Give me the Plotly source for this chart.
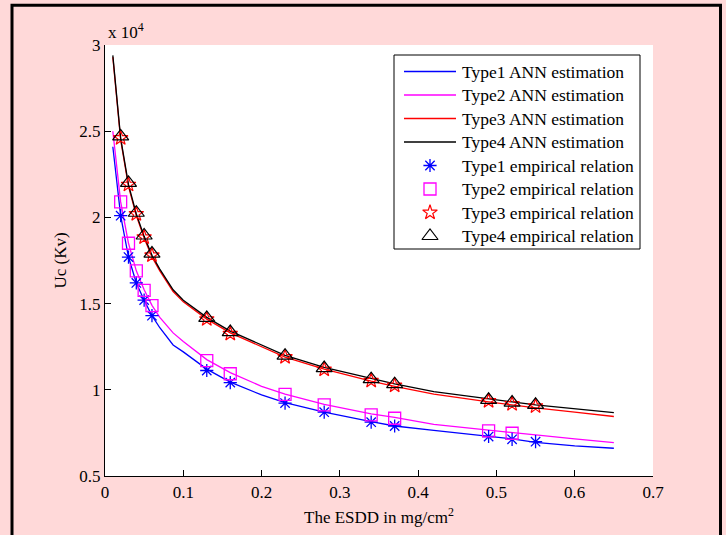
import plotly.graph_objects as go

# ESDD sampling grid for the ANN estimation curves (mg/cm^2)
esdd_curve = [0.01, 0.02, 0.03, 0.04, 0.05, 0.06, 0.07, 0.087, 0.10, 0.13, 0.16,
              0.20, 0.23, 0.28, 0.34, 0.37, 0.42, 0.49, 0.52, 0.55, 0.60, 0.65]

# ANN-estimated flashover voltage Uc (x 10^4 kV)
type1_ann = [2.41, 2.01, 1.77, 1.62, 1.52, 1.43, 1.36, 1.26, 1.22, 1.12, 1.045,
             0.97, 0.925, 0.87, 0.815, 0.79, 0.765, 0.73, 0.715, 0.695, 0.675, 0.661]
type2_ann = [2.50, 2.09, 1.85, 1.69, 1.58, 1.49, 1.42, 1.33, 1.28, 1.175, 1.10,
             1.02, 0.975, 0.915, 0.86, 0.84, 0.80, 0.765, 0.75, 0.738, 0.715, 0.694]
type3_ann = [2.93, 2.45, 2.18, 2.01, 1.88, 1.77, 1.69, 1.57, 1.51, 1.41, 1.33,
             1.25, 1.19, 1.12, 1.05, 1.02, 0.975, 0.93, 0.912, 0.895, 0.87, 0.845]
type4_ann = [2.94, 2.46, 2.19, 2.02, 1.89, 1.78, 1.70, 1.58, 1.52, 1.42, 1.34,
             1.26, 1.20, 1.13, 1.065, 1.035, 0.99, 0.945, 0.93, 0.912, 0.89, 0.868]

# Empirical relation points
esdd_emp = [0.02, 0.03, 0.04, 0.05, 0.06, 0.13, 0.16, 0.23, 0.28, 0.34, 0.37, 0.49, 0.52, 0.55]
type1_emp = [2.01, 1.77, 1.62, 1.52, 1.43, 1.112, 1.042, 0.923, 0.870, 0.812, 0.790, 0.729, 0.713, 0.699]
esdd_emp2 = [0.02, 0.03, 0.04, 0.05, 0.06, 0.13, 0.16, 0.23, 0.28, 0.34, 0.37, 0.49, 0.52]
type2_emp = [2.09, 1.85, 1.69, 1.577, 1.488, 1.169, 1.093, 0.973, 0.913, 0.855, 0.835, 0.762, 0.748]
type3_emp = [2.46, 2.19, 2.02, 1.885, 1.78, 1.41, 1.325, 1.19, 1.118, 1.053, 1.025, 0.935, 0.918, 0.905]
type4_emp = [2.47, 2.20, 2.027, 1.895, 1.79, 1.417, 1.335, 1.198, 1.126, 1.062, 1.033, 0.942, 0.926, 0.913]

# Axis ticks
x_ticks = [0, 0.1, 0.2, 0.3, 0.4, 0.5, 0.6, 0.7]
x_tick_text = ["0", "0.1", "0.2", "0.3", "0.4", "0.5", "0.6", "0.7"]
y_ticks = [0.5, 1, 1.5, 2, 2.5, 3]
y_tick_text = ["0.5", "1", "1.5", "2", "2.5", "3"]

FONT = "Liberation Serif, Times New Roman, serif"

line_series = [
    ("Type1 ANN estimation", type1_ann, "#0000ff"),
    ("Type2 ANN estimation", type2_ann, "#ff00ff"),
    ("Type3 ANN estimation", type3_ann, "#ff0000"),
    ("Type4 ANN estimation", type4_ann, "#000000"),
]
marker_series = [
    ("Type1 empirical relation", esdd_emp, type1_emp, "#0000ff", "asterisk-open", 11, 1.3),
    ("Type2 empirical relation", esdd_emp2, type2_emp, "#ff00ff", "square-open", 12, 1.3),
    ("Type3 empirical relation", esdd_emp, type3_emp, "#ff0000", "star-open", 11, 1.2),
    ("Type4 empirical relation", esdd_emp, type4_emp, "#000000", "triangle-up-open", 14, 1.2),
]

fig = go.Figure()

for name, ys, color in line_series:
    fig.add_trace(go.Scatter(x=esdd_curve, y=ys, mode="lines", name=name, showlegend=False,
                             line=dict(color=color, width=1.3)))

for name, xs, ys, color, sym, size, lw in marker_series:
    fig.add_trace(go.Scatter(x=xs, y=ys, mode="markers", name=name, showlegend=False,
                             marker=dict(symbol=sym, size=size, color=color,
                                         line=dict(color=color, width=lw))))

L, R, T, B = 105, 73, 45, 59
W, H = 726, 535
pw, ph = W - L - R, H - T - B

def px_x(p):
    return (p - L) / pw

def px_y(p):
    return (H - B - p) / ph

# Legend box drawn in pixel space on an overlay axis
LEG_LEFT, LEG_RIGHT, LEG_TOP, LEG_BOTTOM = 394, 640, 55, 249
ROW0, ROW_STEP = 71.5, 23.5
SAMPLE_X0, SAMPLE_X1, SAMPLE_XC, TEXT_X = 404, 456, 430, 460

shapes = [
    dict(type="rect", xref="paper", yref="paper",
         x0=px_x(LEG_LEFT), x1=px_x(LEG_RIGHT), y0=px_y(LEG_BOTTOM), y1=px_y(LEG_TOP),
         line=dict(color="#000000", width=1), fillcolor="#ffffff", layer="below"),
    dict(type="rect", xref="paper", yref="paper",
         x0=px_x(12), x1=px_x(720.5), y0=px_y(560), y1=px_y(5.3),
         line=dict(color="#000000", width=3), fillcolor="rgba(0,0,0,0)", layer="above"),
]
annotations = [
    dict(text="x 10<sup>4</sup>", x=px_x(106), y=px_y(44), xref="paper", yref="paper",
         xanchor="left", yanchor="bottom", showarrow=False,
         font=dict(family=FONT, size=17, color="#000000")),
]

row = 0
for name, _, color in line_series:
    yc = ROW0 + ROW_STEP * row
    shapes.append(dict(type="line", xref="paper", yref="paper",
                       x0=px_x(SAMPLE_X0), x1=px_x(SAMPLE_X1), y0=px_y(yc), y1=px_y(yc),
                       line=dict(color=color, width=1.6)))
    annotations.append(dict(text=name, x=px_x(TEXT_X), y=px_y(yc), xref="paper", yref="paper",
                            xanchor="left", yanchor="middle", showarrow=False,
                            font=dict(family=FONT, size=17.5, color="#000000")))
    row += 1

for name, _, _, color, sym, size, lw in marker_series:
    yc = ROW0 + ROW_STEP * row
    fig.add_trace(go.Scatter(x=[SAMPLE_XC], y=[yc], xaxis="x2", yaxis="y2", mode="markers",
                             showlegend=False, hoverinfo="skip",
                             marker=dict(symbol=sym, size=size, color=color,
                                         line=dict(color=color, width=lw))))
    annotations.append(dict(text=name, x=px_x(TEXT_X), y=px_y(yc), xref="paper", yref="paper",
                            xanchor="left", yanchor="middle", showarrow=False,
                            font=dict(family=FONT, size=17.5, color="#000000")))
    row += 1

fig.update_layout(
    width=W, height=H,
    margin=dict(l=L, r=R, t=T, b=B, pad=0),
    paper_bgcolor="#ffd9d9",
    plot_bgcolor="#ffffff",
    font=dict(family=FONT, size=17, color="#000000"),
    showlegend=False,
    xaxis=dict(
        range=[0, 0.7], tickvals=x_ticks, ticktext=x_tick_text,
        ticks="inside", ticklen=6, tickwidth=1, tickcolor="#000000",
        showline=True, linecolor="#000000", linewidth=1.2, mirror=False,
        showgrid=False, zeroline=False,
        title=dict(text="The ESDD in mg/cm<sup>2</sup>", standoff=10,
                   font=dict(family=FONT, size=17)),
    ),
    yaxis=dict(
        range=[0.5, 3], tickvals=y_ticks, ticktext=y_tick_text,
        ticks="inside", ticklen=6, tickwidth=1, tickcolor="#000000",
        showline=True, linecolor="#000000", linewidth=1.2, mirror=False,
        showgrid=False, zeroline=False,
        title=dict(text="Uc (Kv)", standoff=8, font=dict(family=FONT, size=17)),
    ),
    xaxis2=dict(overlaying="x", range=[L, W - R], visible=False, fixedrange=True),
    yaxis2=dict(overlaying="y", range=[H - B, T], visible=False, fixedrange=True),
    annotations=annotations,
    shapes=shapes,
)

fig.write_html("out.html")
